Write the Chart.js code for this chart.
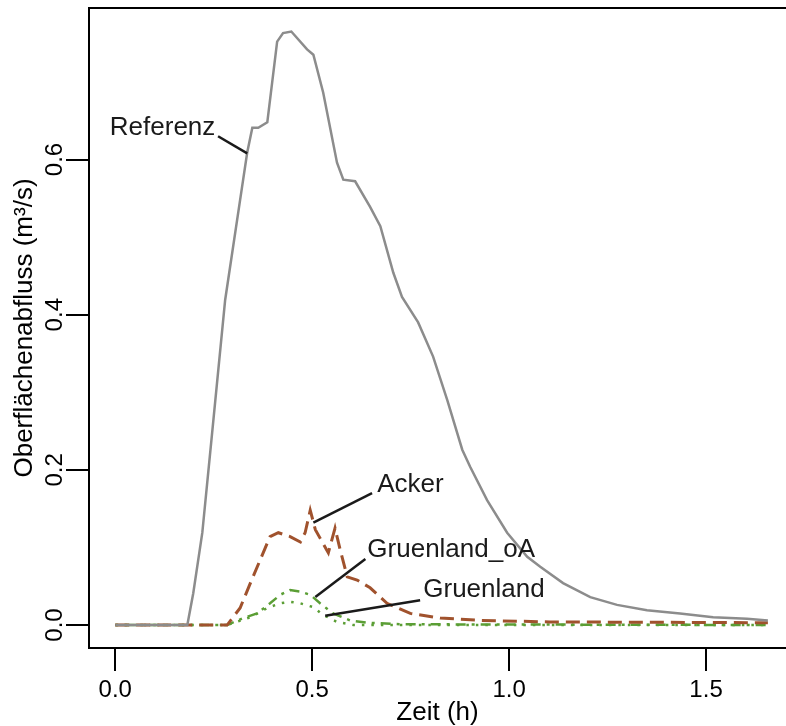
<!DOCTYPE html>
<html>
<head>
<meta charset="utf-8">
<script src="https://cdn.jsdelivr.net/npm/chart.js@4"></script>
<style>
html, body { margin: 0; padding: 0; background: #fff; }
#wrap { width: 786px; height: 726px; }
</style>
</head>
<body>
<div id="wrap"><canvas id="flowChart"></canvas></div>
<script>
// Zeit (h) und Abfluss (m3/s) je Szenario
const refTime = [0, 0.183, 0.198, 0.221, 0.246, 0.279, 0.317, 0.335, 0.348, 0.363, 0.386, 0.411, 0.426, 0.447, 0.487, 0.503, 0.528, 0.563, 0.579, 0.609, 0.647, 0.673, 0.706, 0.728, 0.769, 0.807, 0.843, 0.881, 0.901, 0.944, 0.995, 1.046, 1.079, 1.137, 1.206, 1.274, 1.350, 1.434, 1.518, 1.604, 1.657];
const refFlow = [0, 0, 0.041, 0.119, 0.248, 0.419, 0.548, 0.609, 0.641, 0.641, 0.648, 0.752, 0.763, 0.765, 0.742, 0.735, 0.686, 0.596, 0.574, 0.572, 0.539, 0.514, 0.454, 0.423, 0.390, 0.346, 0.290, 0.226, 0.204, 0.161, 0.119, 0.088, 0.075, 0.054, 0.036, 0.026, 0.019, 0.015, 0.010, 0.008, 0.006];

const ackerTime = [0, 0.284, 0.317, 0.343, 0.368, 0.393, 0.414, 0.444, 0.470, 0.482, 0.495, 0.508, 0.520, 0.541, 0.558, 0.571, 0.589, 0.614, 0.647, 0.690, 0.749, 0.825, 0.926, 1.104, 1.657];
const ackerFlow = [0, 0, 0.022, 0.054, 0.084, 0.114, 0.119, 0.114, 0.107, 0.119, 0.148, 0.123, 0.112, 0.093, 0.125, 0.097, 0.062, 0.058, 0.048, 0.028, 0.015, 0.009, 0.006, 0.004, 0.003];

const gruenOATime = [0, 0.284, 0.325, 0.360, 0.393, 0.419, 0.444, 0.470, 0.495, 0.520, 0.553, 0.596, 0.640, 0.723, 1.657];
const gruenOAFlow = [0, 0, 0.009, 0.015, 0.028, 0.039, 0.045, 0.043, 0.039, 0.028, 0.015, 0.006, 0.003, 0.001, 0];

const gruenTime = [0, 0.284, 0.343, 0.386, 0.419, 0.444, 0.470, 0.503, 0.528, 0.563, 0.604, 1.657];
const gruenFlow = [0, 0, 0.010, 0.022, 0.028, 0.030, 0.028, 0.023, 0.013, 0.004, 0, 0];

const xTicks = [0, 0.5, 1.0, 1.5];
const yTicks = [0, 0.2, 0.4, 0.6];

const FONT = '"Liberation Sans", Arial, sans-serif';

function toPoints(xs, ys) {
    return xs.map((x, i) => ({ x: x, y: ys[i] }));
}

// Beschriftungen mit Hinweislinien (Datenkoordinaten)
const labels = [
    { text: 'Referenz', x: 0.254, y: 0.641, align: 'right', from: [0.261, 0.630], to: [0.335, 0.608] },
    { text: 'Acker', x: 0.665, y: 0.181, align: 'left', from: [0.652, 0.170], to: [0.503, 0.132] },
    { text: 'Gruenland_oA', x: 0.640, y: 0.097, align: 'left', from: [0.635, 0.085], to: [0.508, 0.036] },
    { text: 'Gruenland', x: 0.782, y: 0.045, align: 'left', from: [0.774, 0.032], to: [0.533, 0.012] }
];

const rStyle = {
    id: 'rStyle',
    afterDraw(chart) {
        const { ctx, chartArea, scales } = chart;
        const sx = scales.x, sy = scales.y;
        ctx.save();
        // Rahmen (rechte Kante liegt ausserhalb des Bildes)
        ctx.strokeStyle = '#000';
        ctx.lineWidth = 2;
        ctx.beginPath();
        ctx.moveTo(chartArea.right + 5, chartArea.top);
        ctx.lineTo(chartArea.left, chartArea.top);
        ctx.lineTo(chartArea.left, chartArea.bottom);
        ctx.lineTo(chartArea.right + 5, chartArea.bottom);
        ctx.stroke();

        // y-Achsenbeschriftung gedreht wie in R
        ctx.font = '24px ' + FONT;
        ctx.fillStyle = '#000';
        ctx.textAlign = 'center';
        ctx.textBaseline = 'middle';
        yTicks.forEach(v => {
            ctx.save();
            ctx.translate(chartArea.left - 34, sy.getPixelForValue(v));
            ctx.rotate(-Math.PI / 2);
            ctx.fillText(v.toFixed(1), 0, 0);
            ctx.restore();
        });

        // Kurvenbeschriftungen
        ctx.font = '26px ' + FONT;
        ctx.fillStyle = '#1a1a1a';
        ctx.strokeStyle = '#1a1a1a';
        ctx.lineWidth = 2.5;
        labels.forEach(l => {
            ctx.textAlign = l.align;
            ctx.fillText(l.text, sx.getPixelForValue(l.x), sy.getPixelForValue(l.y));
            ctx.beginPath();
            ctx.moveTo(sx.getPixelForValue(l.from[0]), sy.getPixelForValue(l.from[1]));
            ctx.lineTo(sx.getPixelForValue(l.to[0]), sy.getPixelForValue(l.to[1]));
            ctx.stroke();
        });
        ctx.restore();
    }
};

const ctx = document.getElementById('flowChart').getContext('2d');
new Chart(ctx, {
    type: 'line',
    data: {
        datasets: [
            {
                label: 'Referenz',
                data: toPoints(refTime, refFlow),
                borderColor: '#8c8c8c',
                borderWidth: 2.5
            },
            {
                label: 'Acker',
                data: toPoints(ackerTime, ackerFlow),
                borderColor: '#a0522d',
                borderWidth: 3,
                borderDash: [14, 7]
            },
            {
                label: 'Gruenland_oA',
                data: toPoints(gruenOATime, gruenOAFlow),
                borderColor: '#5b9e35',
                borderWidth: 2.5,
                borderDash: [3, 6, 10, 6]
            },
            {
                label: 'Gruenland',
                data: toPoints(gruenTime, gruenFlow),
                borderColor: '#5b9e35',
                borderWidth: 2.5,
                borderDash: [2.5, 7]
            }
        ]
    },
    options: {
        responsive: true,
        maintainAspectRatio: false,
        animation: false,
        layout: { padding: { top: 8, right: 0, bottom: 0, left: 0 } },
        elements: {
            point: { radius: 0 },
            line: { tension: 0, fill: false }
        },
        scales: {
            x: {
                type: 'linear',
                min: -0.0667,
                max: 1.703,
                afterBuildTicks: s => { s.ticks = xTicks.map(v => ({ value: v })); },
                afterFit: s => { s.height = 78; },
                ticks: {
                    callback: v => v.toFixed(1),
                    color: '#000',
                    font: { family: FONT, size: 24 },
                    padding: 5,
                    maxRotation: 0,
                    autoSkip: false
                },
                grid: { drawOnChartArea: false, tickLength: 23, color: '#000', lineWidth: 2 },
                border: { display: false },
                title: {
                    display: true,
                    text: 'Zeit (h)',
                    color: '#000',
                    font: { family: FONT, size: 26, lineHeight: 1 },
                    padding: { top: 0, bottom: 0 }
                }
            },
            y: {
                min: -0.0296,
                max: 0.7953,
                afterBuildTicks: s => { s.ticks = yTicks.map(v => ({ value: v })); },
                afterFit: s => { s.width = 89; },
                ticks: { display: false },
                grid: { drawOnChartArea: false, tickLength: 23, color: '#000', lineWidth: 2 },
                border: { display: false },
                title: {
                    display: true,
                    text: 'Oberflächenabfluss (m³/s)',
                    color: '#000',
                    font: { family: FONT, size: 26, lineHeight: 1 },
                    padding: { top: 12, bottom: 0 }
                }
            }
        },
        plugins: {
            legend: { display: false },
            tooltip: { enabled: false }
        }
    },
    plugins: [rStyle]
});
</script>
</body>
</html>
